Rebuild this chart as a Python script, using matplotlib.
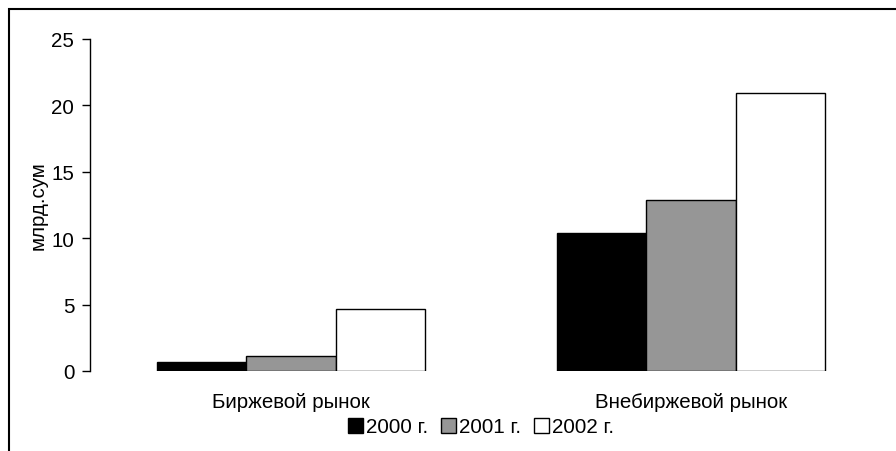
import numpy as np
import matplotlib.pyplot as plt
from matplotlib.patches import Rectangle, Patch

plt.rcParams['font.family'] = ['Liberation Sans', 'DejaVu Sans']

categories = ['Биржевой рынок', 'Внебиржевой рынок']
years = ['2000 г.', '2001 г.', '2002 г.']
values_2000 = [0.68, 10.4]
values_2001 = [1.13, 12.85]
values_2002 = [4.65, 20.9]
colors = ['#000000', '#969696', '#ffffff']

fs = 14.8
fig = plt.figure(figsize=(8.96, 4.52), dpi=100)
W, H = 896, 452
ax = fig.add_axes([91 / W, 1 - 372 / H, 800 / W, 332 / H])

# outer frame (right and bottom sides fall off the picture)
fig.patches.append(Rectangle((9 / W, -0.1), 1.2, 1.1 - 10 / H, transform=fig.transFigure,
                             fill=False, edgecolor='black', linewidth=1.5))

x = np.arange(len(categories))
w = 0.2235
series = [values_2000, values_2001, values_2002]
for i, vals in enumerate(series):
    ax.bar(x + (i - 1) * w, vals, width=w, color=colors[i], edgecolor='black',
           linewidth=1.0, label=years[i])

ax.set_xlim(-0.5, 1.5)
ax.set_ylim(0, 25)
ax.set_yticks([0, 5, 10, 15, 20, 25])
ax.set_xticks(x)
ax.set_xticklabels(categories)
ax.tick_params(axis='x', length=0, pad=15, labelsize=fs)
ax.tick_params(axis='y', direction='out', length=6, width=1, pad=5, labelsize=fs)
for s in ['top', 'right', 'bottom']:
    ax.spines[s].set_visible(False)
ax.spines['left'].set_linewidth(1)
ax.spines['left'].set_position(('outward', 1))
ax.set_ylabel('млрд.сум', fontsize=fs, labelpad=3)

handles = [Patch(facecolor=c, edgecolor='black', linewidth=1) for c in colors]
fig.legend(handles, years, loc='center', bbox_to_anchor=(481 / W, 1 - 428 / H), ncol=3,
           frameon=False, fontsize=fs, handlelength=0.7, handleheight=0.7,
           handletextpad=0.15, columnspacing=0.65, borderpad=0)

fig.savefig('out.png', dpi=100)
